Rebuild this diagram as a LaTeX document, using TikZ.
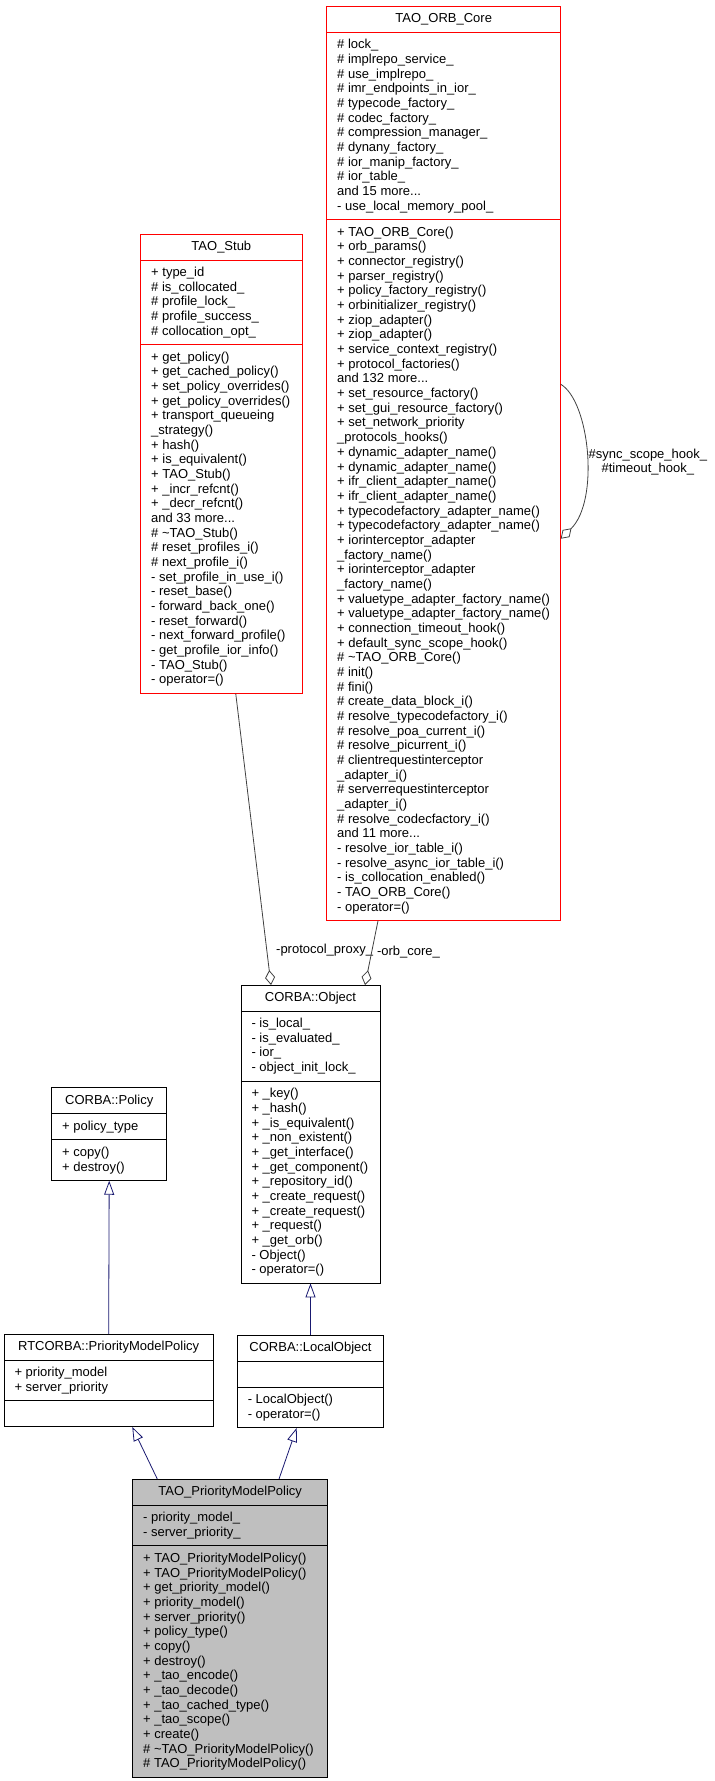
\documentclass[tikz,border=0pt]{standalone}
\usepackage{fontspec}
\setmainfont{Liberation Sans}
\usetikzlibrary{arrows.meta,shapes.multipart,positioning,calc}

\definecolor{inhblue}{HTML}{191970}
\definecolor{usegrey}{HTML}{404040}
\definecolor{mainfill}{HTML}{BFBFBF}
\newcommand{\blankrow}{\rule[-2.7pt]{0pt}{12pt}}

\begin{document}
\begin{tikzpicture}[x=1pt, y=-1pt,
    class node/.style={rectangle split, rectangle split parts=3, draw, line width=1pt,
      rectangle split part align={center,left,left}, align=left, anchor=north west,
      inner xsep=10.5pt, inner ysep=6.5pt, outer sep=0pt,
      font=\fontsize{13}{14.67}\selectfont},
    cut node/.style={class node, draw=red},
    main node/.style={class node, fill=mainfill},
    inherit/.style={draw=inhblue, line width=0.8pt, -{Triangle[open, length=14pt, width=10pt]}},
    uses/.style={draw=usegrey, line width=0.8pt, -{Diamond[open, length=15pt, width=10pt]}},
    role label/.style={font=\fontsize{13}{14}\selectfont, inner sep=2pt, anchor=west}]

  \useasboundingbox (0,0) rectangle (715,1781);

  \node[cut node, minimum width=234pt] (orb) at (326.7,6.7) {TAO\_ORB\_Core
    \nodepart{second}
    \# lock\_\\
    \# implrepo\_service\_\\
    \# use\_implrepo\_\\
    \# imr\_endpoints\_in\_ior\_\\
    \# typecode\_factory\_\\
    \# codec\_factory\_\\
    \# compression\_manager\_\\
    \# dynany\_factory\_\\
    \# ior\_manip\_factory\_\\
    \# ior\_table\_\\
    and 15 more...\\
    - use\_local\_memory\_pool\_
    \nodepart{third}
    + TAO\_ORB\_Core()\\
    + orb\_params()\\
    + connector\_registry()\\
    + parser\_registry()\\
    + policy\_factory\_registry()\\
    + orbinitializer\_registry()\\
    + ziop\_adapter()\\
    + ziop\_adapter()\\
    + service\_context\_registry()\\
    + protocol\_factories()\\
    and 132 more...\\
    + set\_resource\_factory()\\
    + set\_gui\_resource\_factory()\\
    + set\_network\_priority\\
    \_protocols\_hooks()\\
    + dynamic\_adapter\_name()\\
    + dynamic\_adapter\_name()\\
    + ifr\_client\_adapter\_name()\\
    + ifr\_client\_adapter\_name()\\
    + typecodefactory\_adapter\_name()\\
    + typecodefactory\_adapter\_name()\\
    + iorinterceptor\_adapter\\
    \_factory\_name()\\
    + iorinterceptor\_adapter\\
    \_factory\_name()\\
    + valuetype\_adapter\_factory\_name()\\
    + valuetype\_adapter\_factory\_name()\\
    + connection\_timeout\_hook()\\
    + default\_sync\_scope\_hook()\\
    \# \textasciitilde TAO\_ORB\_Core()\\
    \# init()\\
    \# fini()\\
    \# create\_data\_block\_i()\\
    \# resolve\_typecodefactory\_i()\\
    \# resolve\_poa\_current\_i()\\
    \# resolve\_picurrent\_i()\\
    \# clientrequestinterceptor\\
    \_adapter\_i()\\
    \# serverrequestinterceptor\\
    \_adapter\_i()\\
    \# resolve\_codecfactory\_i()\\
    and 11 more...\\
    - resolve\_ior\_table\_i()\\
    - resolve\_async\_ior\_table\_i()\\
    - is\_collocation\_enabled()\\
    - TAO\_ORB\_Core()\\
    - operator=()};

  \node[cut node, minimum width=161.3pt] (stub) at (140.7,234) {TAO\_Stub
    \nodepart{second}
    + type\_id\\
    \# is\_collocated\_\\
    \# profile\_lock\_\\
    \# profile\_success\_\\
    \# collocation\_opt\_
    \nodepart{third}
    + get\_policy()\\
    + get\_cached\_policy()\\
    + set\_policy\_overrides()\\
    + get\_policy\_overrides()\\
    + transport\_queueing\\
    \_strategy()\\
    + hash()\\
    + is\_equivalent()\\
    + TAO\_Stub()\\
    + \_incr\_refcnt()\\
    + \_decr\_refcnt()\\
    and 33 more...\\
    \# \textasciitilde TAO\_Stub()\\
    \# reset\_profiles\_i()\\
    \# next\_profile\_i()\\
    - set\_profile\_in\_use\_i()\\
    - reset\_base()\\
    - forward\_back\_one()\\
    - reset\_forward()\\
    - next\_forward\_profile()\\
    - get\_profile\_ior\_info()\\
    - TAO\_Stub()\\
    - operator=()};

  \node[class node, minimum width=139pt] (obj) at (241,985) {CORBA::Object
    \nodepart{second}
    - is\_local\_\\
    - is\_evaluated\_\\
    - ior\_\\
    - object\_init\_lock\_
    \nodepart{third}
    + \_key()\\
    + \_hash()\\
    + \_is\_equivalent()\\
    + \_non\_existent()\\
    + \_get\_interface()\\
    + \_get\_component()\\
    + \_repository\_id()\\
    + \_create\_request()\\
    + \_create\_request()\\
    + \_request()\\
    + \_get\_orb()\\
    - Object()\\
    - operator=()};

  \node[class node, minimum width=115pt] (pol) at (51.7,1087.7) {CORBA::Policy
    \nodepart{second}
    + policy\_type
    \nodepart{third}
    + copy()\\
    + destroy()};

  \node[class node, minimum width=209.3pt] (rt) at (4,1334) {RTCORBA::PriorityModelPolicy
    \nodepart{second}
    + priority\_model\\
    + server\_priority
    \nodepart{third}
    \blankrow};

  \node[class node, minimum width=146.4pt] (lobj) at (237.3,1335) {CORBA::LocalObject
    \nodepart{second}
    \blankrow
    \nodepart{third}
    - LocalObject()\\
    - operator=()};

  \node[main node, minimum width=195pt] (pmp) at (132.7,1479) {TAO\_PriorityModelPolicy
    \nodepart{second}
    - priority\_model\_\\
    - server\_priority\_
    \nodepart{third}
    + TAO\_PriorityModelPolicy()\\
    + TAO\_PriorityModelPolicy()\\
    + get\_priority\_model()\\
    + priority\_model()\\
    + server\_priority()\\
    + policy\_type()\\
    + copy()\\
    + destroy()\\
    + \_tao\_encode()\\
    + \_tao\_decode()\\
    + \_tao\_cached\_type()\\
    + \_tao\_scope()\\
    + create()\\
    \# \textasciitilde TAO\_PriorityModelPolicy()\\
    \# TAO\_PriorityModelPolicy()};

  \draw[uses] ([xshift=14.4pt]stub.south) -- node[role label, pos=0.88, xshift=7pt] {-protocol\_proxy\_} ([xshift=-39.5pt]obj.north);
  \draw[uses] ([xshift=-65.7pt]orb.south) -- node[role label, pos=0.49, xshift=3pt] {-orb\_core\_} ([xshift=54.5pt]obj.north);

  \coordinate (loop start) at ([yshift=79.5pt]orb.east);
  \coordinate (loop end) at ([yshift=-75pt]orb.east);
  \draw[uses] (loop start) .. controls ($(loop start)+(29,17)$) and ($(loop end)+(39,-38)$) ..
    node[role label, midway, align=center, yshift=-8pt] {\#sync\_scope\_hook\_\\\#timeout\_hook\_} (loop end);

  \draw[inherit] (rt.north) -- (pol.south);
  \draw[inherit] (lobj.north) -- (obj.south);
  \draw[inherit] ([xshift=-72.9pt]pmp.north) -- ([xshift=23.6pt]rt.south);
  \draw[inherit] ([xshift=48.8pt]pmp.north) -- ([xshift=-13.8pt]lobj.south);
\end{tikzpicture}
\end{document}
